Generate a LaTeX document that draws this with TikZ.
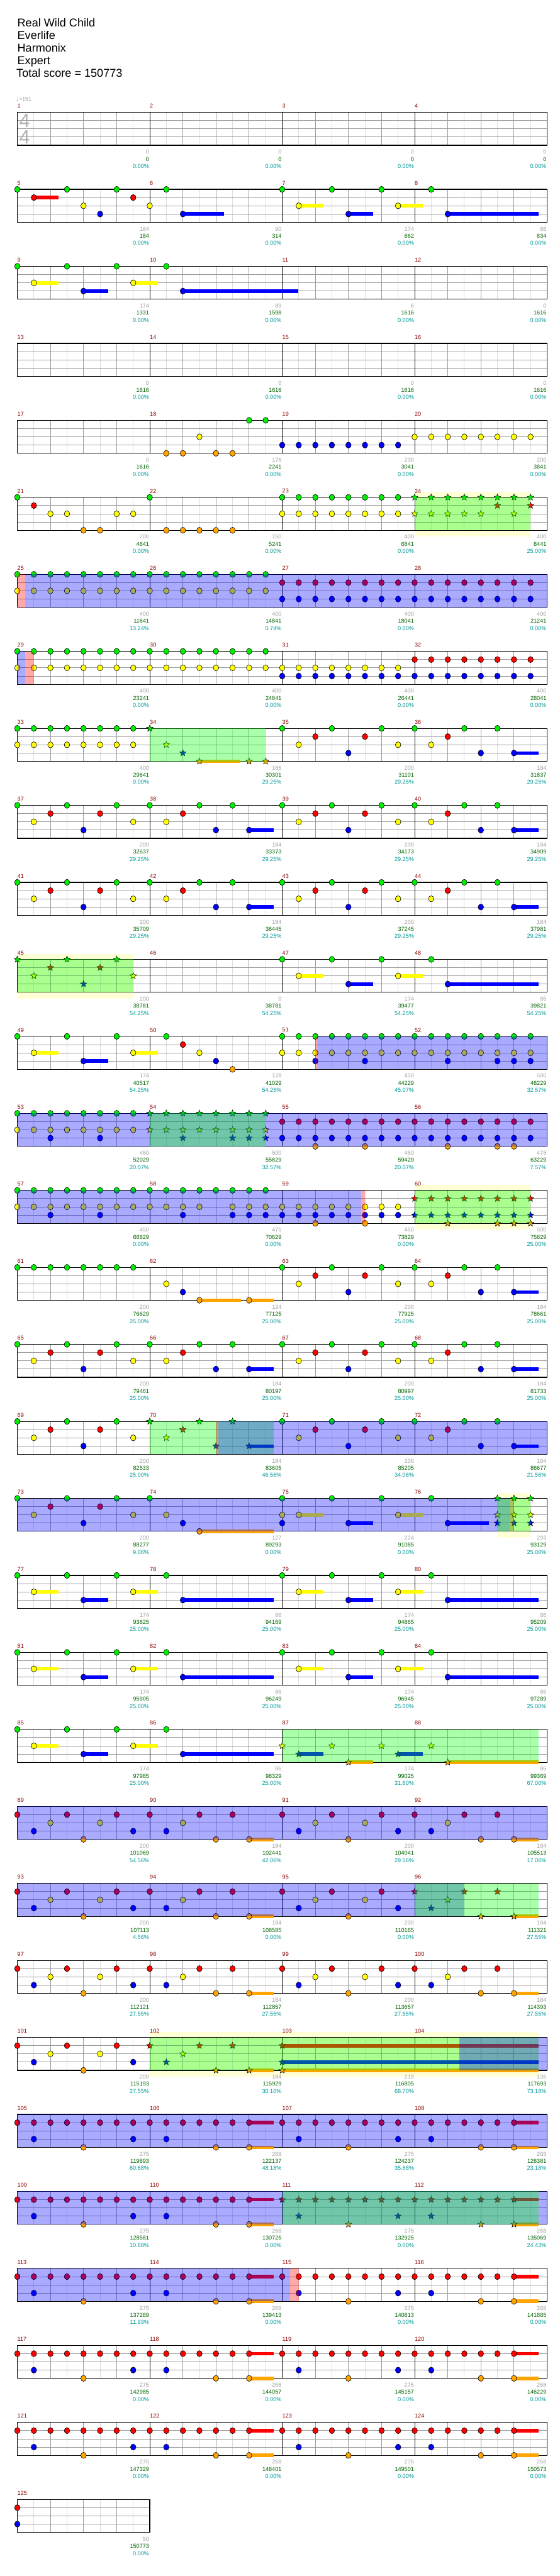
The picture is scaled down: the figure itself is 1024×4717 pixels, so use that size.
\documentclass[tikz,border=0pt]{standalone}
\usepackage{fontspec}
\setmainfont{Liberation Sans}
\newfontfamily\symfont{DejaVu Sans}
\definecolor{lane0}{RGB}{0,238,0}
\definecolor{lane1}{RGB}{255,0,0}
\definecolor{lane2}{RGB}{255,255,0}
\definecolor{lane3}{RGB}{0,0,255}
\definecolor{lane4}{RGB}{255,165,0}
\definecolor{ovb}{RGB}{0,0,255}
\definecolor{ovg}{RGB}{0,255,0}
\definecolor{ovr}{RGB}{255,0,0}
\definecolor{ybg}{RGB}{255,255,214}
\definecolor{mnumc}{RGB}{139,0,0}
\definecolor{labgray}{RGB}{160,160,160}
\definecolor{labgreen}{RGB}{0,100,0}
\definecolor{labteal}{RGB}{0,153,153}
\definecolor{glight}{RGB}{222,222,222}
\definecolor{gmid}{RGB}{155,155,155}
\definecolor{tsig}{RGB}{175,175,175}

\newcommand\xpos[2]{31.7+mod(#1-1,4)*242.4+(#2)*30.3}
\newcommand\rowtop[1]{205.7+floor((#1-1)/4)*141}

% plain gem: measure, position (eighths), lane
\newcommand\gm[3]{%
 \pgfmathsetmacro\gx{\xpos{#1}{#2}}%
 \pgfmathsetmacro\gy{\rowtop{#1}+(#3)*15.08}%
 \pgfmathtruncatemacro\gl{#3}%
 \filldraw[fill=lane\gl,draw=black,line width=.7pt] (\gx,\gy) ellipse [x radius=5pt,y radius=5.5pt];}
% star gem
\newcommand\sg[3]{%
 \pgfmathsetmacro\gx{\xpos{#1}{#2}}%
 \pgfmathsetmacro\gy{\rowtop{#1}+(#3)*15.08}%
 \pgfmathtruncatemacro\gl{#3}%
 \filldraw[fill=lane\gl,draw=black,line width=.6pt,line join=miter] (\gx,\gy) +(90:6.2pt) -- +(126:2.7pt) -- +(162:6.2pt) -- +(198:2.7pt) -- +(234:6.2pt) -- +(270:2.7pt) -- +(306:6.2pt) -- +(342:2.7pt) -- +(18:6.2pt) -- +(54:2.7pt) -- cycle;}
% sustain: measure, start, lane, end
\newcommand\sus[4]{%
 \pgfmathsetmacro\gx{\xpos{#1}{#2}}%
 \pgfmathsetmacro\gxe{\xpos{#1}{#4}}%
 \pgfmathsetmacro\gy{\rowtop{#1}+(#3)*15.08}%
 \pgfmathtruncatemacro\gl{#3}%
 \fill[lane\gl] (\gx,{\gy-3.3}) rectangle (\gxe,{\gy+3.3});}
\newcommand\grun[4]{\foreach\p in{#4}{#1{#2}{\p}{#3}}}
% patterns
\newcommand\pA[3]{\foreach\p in{0,3,6}{#1{#2}{\p}{#3}}\foreach\p in{2,5}{#1{#2}{\p}{#3+1}}\foreach\p in{1,7}{#1{#2}{\p}{#3+2}}#1{#2}{4}{#3+3}}
\newcommand\pB[3]{\foreach\p in{0,3,5}{#1{#2}{\p}{#3}}#1{#2}{2}{#3+1}#1{#2}{1}{#3+2}#1{#2}{4}{#3+3}\sus{#2}{6}{#3+3}{7.48}#1{#2}{6}{#3+3}}
\newcommand\pC[1]{\foreach\p in{0,3,6}{\gm{#1}{\p}{0}}\sus{#1}{1}{2}{2.48}\gm{#1}{1}{2}\sus{#1}{4}{3}{5.48}\gm{#1}{4}{3}\sus{#1}{7}{2}{8.48}\gm{#1}{7}{2}}
\newcommand\pD[2]{\gm{#1}{1}{0}\sus{#1}{2}{3}{#2}\gm{#1}{2}{3}}
\newcommand\pE[2]{\foreach\p in{0,...,7}{#1{#2}{\p}{1}}#1{#2}{1}{3}#1{#2}{7}{3}#1{#2}{4}{4}}
\newcommand\pF[2]{\foreach\p in{0,...,5}{#1{#2}{\p}{1}}\sus{#2}{6}{1}{7.48}#1{#2}{6}{1}#1{#2}{1}{3}#1{#2}{4}{4}\sus{#2}{6}{4}{7.48}#1{#2}{6}{4}}
% overlays
\newcommand\ov[5]{%
 \pgfmathsetmacro\xa{\xpos{#1}{#2}}%
 \pgfmathsetmacro\xb{\xpos{#3}{#4}}%
 \pgfmathsetmacro\ty{\rowtop{#1}}%
 \fill[#5,fill opacity=.333] (\xa,\ty) rectangle (\xb,{\ty+60.33});}
\newcommand\yb[4]{%
 \pgfmathsetmacro\xa{\xpos{#1}{#2}}%
 \pgfmathsetmacro\xb{\xpos{#3}{#4}}%
 \pgfmathsetmacro\ty{\rowtop{#1}}%
 \fill[ybg] (\xa,{\ty-10}) rectangle (\xb,{\ty+72});}
% staff
\newcommand\staff[2]{%
 \pgfmathsetmacro\ty{205.7+#1*141}%
 \pgfmathsetmacro\rx{31.7+#2*242.4}%
 \pgfmathtruncatemacro\ne{#2*8-1}%
 \foreach\i in{1,3,...,\ne}{\draw[draw=glight,line width=1pt] ({31.7+\i*30.3},\ty) -- ++(0,60.33);}%
 \foreach\i in{2,4,...,\ne}{\draw[draw=gmid,line width=1pt] ({31.7+\i*30.3},\ty) -- ++(0,60.33);}%
 \foreach\j in{1,2,3}{\draw[draw=gmid,line width=1pt] (31.7,{\ty+\j*15.08}) -- (\rx,{\ty+\j*15.08});}%
 \ifnum#2>1 \foreach\i in{1,2,3}{\draw[black,line width=1pt] ({31.7+\i*242.4},\ty) -- ++(0,60.33);}\fi
 \draw[black,line width=1.3pt] (31.7,\ty) rectangle (\rx,{\ty+60.33});%
 \foreach\j in{1,...,#2}{\pgfmathtruncatemacro\mn{#1*4+\j}\node[mnum] (mn\mn) at ({31.7+(\j-1)*242.4},{\ty-11.5}) {\mn};}}
\newcommand\lab[4]{%
 \pgfmathsetmacro\lx{\xpos{#1}{8}-1}%
 \pgfmathsetmacro\ly{\rowtop{#1}}%
 \node[lbl,text=labgray] (lg#1) at (\lx,{\ly+72.5}) {#2};%
 \node[lbl,text=labgreen] (ls#1) at (\lx,{\ly+85.5}) {#3};%
 \node[lbl,text=labteal] (lp#1) at (\lx,{\ly+98.7}) {#4\%};}

\begin{document}
\begin{tikzpicture}[x=1pt,y=-1pt,
 lbl/.style={anchor=east,inner sep=0pt,font=\fontsize{10.5}{12}\selectfont},
 mnum/.style={anchor=west,inner sep=0pt,text=mnumc,font=\fontsize{10.5}{12}\selectfont},
 hdr/.style={anchor=base west,inner sep=0pt,font=\fontsize{20.8}{24}\selectfont}]
\useasboundingbox (0,0) rectangle (1024,4717);
\fill[white] (0,0) rectangle (1024,4717);
% header
\node[hdr] (t1) at (31.7,49) {Real Wild Child};
\node[hdr] (t2) at (31.7,72) {Everlife};
\node[hdr] (t3) at (31.7,95) {Harmonix};
\node[hdr] (t4) at (31.7,118) {Expert};
\node[hdr] (t5) at (30,141) {Total score = 150773};
\node[anchor=west,inner sep=0pt,text=labgray,font=\fontsize{10}{12}\selectfont] (tempo) at (29.5,181) {{\symfont\fontsize{11}{12}\selectfont ♩}=151};
% star phrase backgrounds
\yb{24}{0}{24}{7}
\yb{45}{0}{45}{7}
\yb{60}{0}{60}{7}
\yb{76}{5}{76}{7}
\yb{102}{0}{104}{7.48}
% staves
\foreach\k in{0,...,30}{\staff{\k}{4}}
\staff{31}{1}
\node[text=tsig,inner sep=0pt,font=\fontsize{35}{36}\selectfont] (ts1) at (45,221) {4};
\node[text=tsig,inner sep=0pt,font=\fontsize{35}{36}\selectfont] (ts2) at (45,251) {4};
% labels
\lab{1}{0}{0}{0.00}\lab{2}{0}{0}{0.00}\lab{3}{0}{0}{0.00}\lab{4}{0}{0}{0.00}
\lab{5}{184}{184}{0.00}\lab{6}{90}{314}{0.00}\lab{7}{174}{662}{0.00}\lab{8}{86}{834}{0.00}
\lab{9}{174}{1331}{0.00}\lab{10}{89}{1598}{0.00}\lab{11}{6}{1616}{0.00}\lab{12}{0}{1616}{0.00}
\lab{13}{0}{1616}{0.00}\lab{14}{0}{1616}{0.00}\lab{15}{0}{1616}{0.00}\lab{16}{0}{1616}{0.00}
\lab{17}{0}{1616}{0.00}\lab{18}{175}{2241}{0.00}\lab{19}{200}{3041}{0.00}\lab{20}{200}{3841}{0.00}
\lab{21}{200}{4641}{0.00}\lab{22}{150}{5241}{0.00}\lab{23}{400}{6841}{0.00}\lab{24}{400}{8441}{25.00}
\lab{25}{400}{11641}{13.24}\lab{26}{400}{14841}{0.74}\lab{27}{400}{18041}{0.00}\lab{28}{400}{21241}{0.00}
\lab{29}{400}{23241}{0.00}\lab{30}{400}{24841}{0.00}\lab{31}{400}{26441}{0.00}\lab{32}{400}{28041}{0.00}
\lab{33}{400}{29641}{0.00}\lab{34}{165}{30301}{29.25}\lab{35}{200}{31101}{29.25}\lab{36}{184}{31837}{29.25}
\lab{37}{200}{32637}{29.25}\lab{38}{184}{33373}{29.25}\lab{39}{200}{34173}{29.25}\lab{40}{184}{34909}{29.25}
\lab{41}{200}{35709}{29.25}\lab{42}{184}{36445}{29.25}\lab{43}{200}{37245}{29.25}\lab{44}{184}{37981}{29.25}
\lab{45}{200}{38781}{54.25}\lab{46}{0}{38781}{54.25}\lab{47}{174}{39477}{54.25}\lab{48}{86}{39821}{54.25}
\lab{49}{174}{40517}{54.25}\lab{50}{128}{41029}{54.25}\lab{51}{450}{44229}{45.07}\lab{52}{500}{48229}{32.57}
\lab{53}{450}{52029}{20.07}\lab{54}{500}{55829}{32.57}\lab{55}{450}{59429}{20.07}\lab{56}{475}{63229}{7.57}
\lab{57}{450}{66829}{0.00}\lab{58}{475}{70629}{0.00}\lab{59}{450}{73829}{0.00}\lab{60}{500}{75829}{25.00}
\lab{61}{200}{76629}{25.00}\lab{62}{124}{77125}{25.00}\lab{63}{200}{77925}{25.00}\lab{64}{184}{78661}{25.00}
\lab{65}{200}{79461}{25.00}\lab{66}{184}{80197}{25.00}\lab{67}{200}{80997}{25.00}\lab{68}{184}{81733}{25.00}
\lab{69}{200}{82533}{25.00}\lab{70}{184}{83605}{46.56}\lab{71}{200}{85205}{34.06}\lab{72}{184}{86677}{21.56}
\lab{73}{200}{88277}{9.06}\lab{74}{127}{89293}{0.00}\lab{75}{224}{91085}{0.00}\lab{76}{293}{93129}{25.00}
\lab{77}{174}{93825}{25.00}\lab{78}{86}{94169}{25.00}\lab{79}{174}{94865}{25.00}\lab{80}{86}{95209}{25.00}
\lab{81}{174}{95905}{25.00}\lab{82}{86}{96249}{25.00}\lab{83}{174}{96945}{25.00}\lab{84}{86}{97289}{25.00}
\lab{85}{174}{97985}{25.00}\lab{86}{86}{98329}{25.00}\lab{87}{174}{99025}{31.80}\lab{88}{86}{99369}{67.00}
\lab{89}{200}{101069}{54.56}\lab{90}{184}{102441}{42.06}\lab{91}{200}{104041}{29.56}\lab{92}{184}{105513}{17.06}
\lab{93}{200}{107113}{4.56}\lab{94}{184}{108585}{0.00}\lab{95}{200}{110165}{0.00}\lab{96}{184}{111321}{27.55}
\lab{97}{200}{112121}{27.55}\lab{98}{184}{112857}{27.55}\lab{99}{200}{113657}{27.55}\lab{100}{184}{114393}{27.55}
\lab{101}{200}{115193}{27.55}\lab{102}{184}{115929}{30.10}\lab{103}{219}{116805}{68.70}\lab{104}{135}{117693}{73.18}
\lab{105}{275}{119893}{60.68}\lab{106}{268}{122137}{48.18}\lab{107}{275}{124237}{35.68}\lab{108}{268}{126381}{23.18}
\lab{109}{275}{128581}{10.68}\lab{110}{268}{130725}{0.00}\lab{111}{275}{132925}{0.00}\lab{112}{268}{135069}{24.43}
\lab{113}{275}{137269}{11.93}\lab{114}{268}{139413}{0.00}\lab{115}{275}{140813}{0.00}\lab{116}{268}{141885}{0.00}
\lab{117}{275}{142985}{0.00}\lab{118}{268}{144057}{0.00}\lab{119}{275}{145157}{0.00}\lab{120}{268}{146229}{0.00}
\lab{121}{275}{147329}{0.00}\lab{122}{268}{148401}{0.00}\lab{123}{275}{149501}{0.00}\lab{124}{268}{150573}{0.00}
\lab{125}{50}{150773}{0.00}
% ---------- gems ----------
% row 1
\grun\gm{5}{0}{0,3,6}\sus{5}{1}{1}{2.48}\gm{5}{1}{1}\gm{5}{7}{1}\gm{5}{4}{2}\gm{5}{5}{3}
\gm{6}{1}{0}\gm{6}{0}{2}\sus{6}{2}{3}{4.5}\gm{6}{2}{3}
\pC{7}\pD{8}{7.48}
% row 2
\pC{9}\pD{10}{8.98}
% row 4
\grun\gm{18}{0}{6,7}\gm{18}{3}{2}\grun\gm{18}{4}{1,2,4,5}
\grun\gm{19}{3}{0,...,7}\grun\gm{20}{2}{0,...,7}
% row 5
\gm{21}{0}{0}\gm{21}{1}{1}\grun\gm{21}{2}{2,3,6,7}\grun\gm{21}{4}{4,5}
\gm{22}{0}{0}\grun\gm{22}{4}{1,...,5}
\grun\gm{23}{0}{0,...,7}\grun\gm{23}{2}{0,...,7}
\grun\sg{24}{0}{0,...,7}\grun\sg{24}{1}{5,7}\grun\sg{24}{2}{0,1,2,3,4,6}
% row 6-7
\foreach\m in{25,26,29,30,33}{\grun\gm{\m}{0}{0,...,7}\grun\gm{\m}{2}{0,...,7}}
\foreach\m in{27,28,32}{\grun\gm{\m}{1}{0,...,7}\grun\gm{\m}{3}{0,...,7}}
\grun\gm{31}{2}{0,...,7}\grun\gm{31}{3}{0,...,7}
% row 8
\sg{34}{0}{0}\sg{34}{1}{2}\sg{34}{2}{3}\sus{34}{3}{4}{5.48}\sg{34}{3}{4}\sg{34}{6}{4}\sg{34}{7}{4}
\foreach\m in{35,37,39,41,43,63,65,67,69,71,73}{\pA\gm{\m}{0}}
\foreach\m in{36,38,40,42,44,64,66,68,72}{\pB\gm{\m}{0}}
% row 11
\pA\sg{45}{0}\pC{47}\pD{48}{7.48}
% row 12
\pC{49}
\gm{50}{1}{0}\gm{50}{2}{1}\gm{50}{3}{2}\gm{50}{4}{3}\gm{50}{5}{4}
\grun\gm{51}{0}{0,...,7}\grun\gm{51}{2}{0,...,7}\grun\gm{51}{3}{2,5}
\grun\gm{52}{0}{0,...,7}\grun\gm{52}{2}{0,...,7}\grun\gm{52}{3}{2,5,6,7}
% row 13
\grun\gm{53}{0}{0,...,7}\grun\gm{53}{2}{0,...,7}\grun\gm{53}{3}{2,5}
\grun\sg{54}{0}{0,...,7}\grun\sg{54}{2}{0,...,7}\grun\sg{54}{3}{2,5,6,7}
\grun\gm{55}{1}{0,...,7}\grun\gm{55}{3}{0,...,7}\grun\gm{55}{4}{2,5}
\grun\gm{56}{1}{0,...,7}\grun\gm{56}{3}{0,...,7}\grun\gm{56}{4}{2,5,6}
% row 14
\grun\gm{57}{0}{0,...,7}\grun\gm{57}{2}{0,...,7}\grun\gm{57}{3}{2,5}
\grun\gm{58}{0}{0,...,7}\grun\gm{58}{2}{0,1,2,3,5,6,7}\grun\gm{58}{3}{2,5,6,7}
\grun\gm{59}{2}{0,...,7}\grun\gm{59}{3}{0,...,7}\grun\gm{59}{4}{2,5}
\grun\sg{60}{1}{0,...,7}\grun\sg{60}{3}{0,...,7}\grun\sg{60}{4}{2,5,6,7}
% row 15
\grun\gm{61}{0}{0,...,7}
\gm{62}{1}{2}\gm{62}{2}{3}\sus{62}{3}{4}{5.5}\gm{62}{3}{4}\sus{62}{6}{4}{7.48}\gm{62}{6}{4}
% row 17
\pB\sg{70}{0}
% row 18
\gm{74}{0}{0}\gm{74}{1}{2}\gm{74}{2}{3}\sus{74}{3}{4}{7.48}\gm{74}{3}{4}
\pC{75}\gm{75}{0}{2}\gm{75}{0}{3}
\gm{76}{1}{0}\sus{76}{2}{3}{4.5}\gm{76}{2}{3}
\foreach\q in{5,6,7}{\sg{76}{\q}{0}\sg{76}{\q}{2}\sg{76}{\q}{3}}
% rows 19-21
\foreach\m in{77,79,81,83,85}{\pC{\m}}
\foreach\m in{78,80,82,84,86}{\pD{\m}{7.48}}
\sg{87}{0}{2}\sus{87}{1}{3}{2.48}\sg{87}{1}{3}\sg{87}{3}{2}\sus{87}{4}{4}{5.48}\sg{87}{4}{4}\sg{87}{6}{2}\sus{87}{7}{3}{8.48}\sg{87}{7}{3}
\sg{88}{1}{2}\sus{88}{2}{4}{7.48}\sg{88}{2}{4}
% rows 22-25
\foreach\m in{89,91,93,95,97,99,101}{\pA\gm{\m}{1}}
\foreach\m in{90,92,94,98,100}{\pB\gm{\m}{1}}
\pB\sg{96}{1}
\pB\sg{102}{1}
\sus{103}{0}{1}{15.48}\sus{103}{0}{3}{15.48}\sus{103}{0}{4}{15.48}\sg{103}{0}{1}\sg{103}{0}{3}\sg{103}{0}{4}
% rows 26-30
\foreach\m in{105,107,109,113,115,117,119,121,123}{\pE\gm{\m}}
\foreach\m in{106,108,110,114,116,118,120,122,124}{\pF\gm{\m}}
\pE\sg{111}\pF\sg{112}
% row 31
\gm{125}{0}{1}\gm{125}{0}{3}
% ---------- overlays ----------
\ov{24}{0}{24}{7}{ovg}
\ov{25}{0}{25}{0.46}{ovr}\ov{25}{0.46}{28}{8}{ovb}
\ov{29}{0}{29}{0.46}{ovb}\ov{29}{0.46}{29}{1}{ovr}
\ov{34}{0}{34}{7}{ovg}
\ov{45}{0}{45}{7}{ovg}
\ov{51}{2}{51}{2.1}{ovr}\ov{51}{2.1}{52}{8}{ovb}
\ov{53}{0}{56}{8}{ovb}\ov{54}{0}{54}{7}{ovg}
\ov{57}{0}{59}{4.78}{ovb}\ov{59}{4.78}{59}{5}{ovr}\ov{60}{0}{60}{7}{ovg}
\ov{70}{0}{70}{7.48}{ovg}\ov{70}{4}{70}{4.13}{ovr}\ov{70}{4.13}{72}{8}{ovb}
\ov{73}{0}{76}{5.78}{ovb}\ov{76}{5.78}{76}{6}{ovr}\ov{76}{5}{76}{7}{ovg}
\ov{87}{0}{88}{7.48}{ovg}
\ov{89}{0}{92}{8}{ovb}
\ov{93}{0}{96}{3}{ovb}\ov{96}{0}{96}{7.48}{ovg}
\ov{102}{0}{104}{7.48}{ovg}\ov{104}{2.7}{104}{8}{ovb}
\ov{105}{0}{108}{8}{ovb}
\ov{109}{0}{112}{8}{ovb}\ov{111}{0}{112}{7.48}{ovg}
\ov{113}{0}{115}{0.46}{ovb}\ov{115}{0.46}{115}{1}{ovr}
\end{tikzpicture}
\end{document}
